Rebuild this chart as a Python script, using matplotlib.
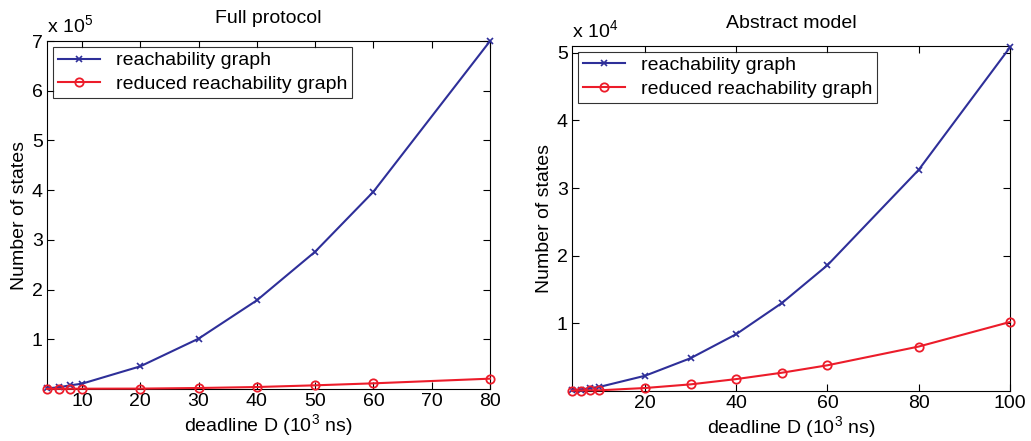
import matplotlib
matplotlib.use("Agg")
import matplotlib.pyplot as plt
from matplotlib.ticker import FixedLocator, FuncFormatter

plt.rcParams['font.family'] = ['Liberation Sans', 'DejaVu Sans']
plt.rcParams['mathtext.fontset'] = 'custom'
plt.rcParams['mathtext.rm'] = 'Liberation Sans'

# Full protocol
full_deadline = [4, 6, 8, 10, 20, 30, 40, 50, 60, 80]
full_rg = [1300, 3400, 7400, 10700, 45600, 101300, 178400, 276300, 397000, 700000]
full_rrg = [300, 400, 500, 600, 800, 2000, 4000, 7400, 11400, 20800]

# Abstract model
abs_deadline = [4, 6, 8, 10, 20, 30, 40, 50, 60, 80, 100]
abs_rg = [100, 200, 450, 600, 2250, 4850, 8400, 13000, 18600, 32700, 50800]
abs_rrg = [50, 70, 90, 100, 440, 980, 1760, 2700, 3800, 6570, 10200]

blue = '#2e2f99'
red = '#ec1c2a'
fs = 14

fig = plt.figure(figsize=(10.31, 4.41), dpi=100)
ax1 = fig.add_axes([0.0456, 0.1179, 0.4297, 0.789])
ax2 = fig.add_axes([0.5548, 0.1134, 0.4248, 0.7823])


def style(ax, x, rg, rrg, xlim, ylim, xticks, yticks, scale, exp, title):
    ax.plot(x, rg, color=blue, lw=1.5, marker='x', ms=4, mew=1.2,
            label='reachability graph', clip_on=False, zorder=3)
    ax.plot(x, rrg, color=red, lw=1.5, marker='o', ms=6, mfc='none', mew=1.3,
            label='reduced reachability graph', clip_on=False, zorder=3)
    ax.set_xlim(*xlim)
    ax.set_ylim(*ylim)
    ax.xaxis.set_major_locator(FixedLocator(xticks))
    ax.yaxis.set_major_locator(FixedLocator(yticks))
    ax.yaxis.set_major_formatter(FuncFormatter(lambda v, p: f"{v / scale:g}"))
    ax.tick_params(direction='in', top=True, right=True, length=5, width=0.8,
                   labelsize=fs, pad=3)
    for s in ax.spines.values():
        s.set_linewidth(0.8)
    ax.set_xlabel('deadline D (10$^3$ ns)', fontsize=fs, labelpad=1.5)
    ax.set_ylabel('Number of states', fontsize=fs, labelpad=3)
    ax.set_title(title, fontsize=fs, pad=13)
    ax.text(0.0, 1.01, 'x 10$^{%d}$' % exp, transform=ax.transAxes,
            fontsize=fs, ha='left', va='bottom')
    leg = ax.legend(loc='upper left', fontsize=fs, frameon=True, fancybox=False,
                    borderaxespad=0.3, handlelength=2.2, handletextpad=0.8,
                    borderpad=0.25, labelspacing=0.3)
    leg.get_frame().set_edgecolor('black')
    leg.get_frame().set_linewidth(0.8)


style(ax1, full_deadline, full_rg, full_rrg, (4, 80), (0, 7e5),
      [10, 20, 30, 40, 50, 60, 70, 80], [1e5 * k for k in range(1, 8)],
      1e5, 5, 'Full protocol')
style(ax2, abs_deadline, abs_rg, abs_rrg, (4, 100), (0, 5.1e4),
      [20, 40, 60, 80, 100], [1e4 * k for k in range(1, 6)],
      1e4, 4, 'Abstract model')

fig.savefig('out.png', dpi=100)
